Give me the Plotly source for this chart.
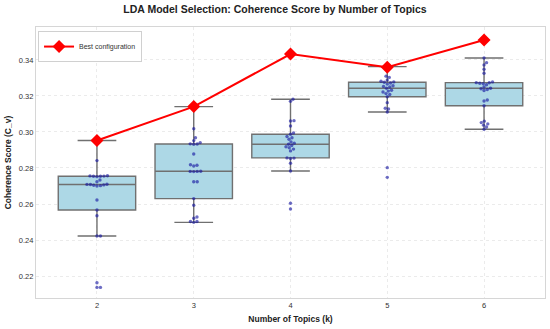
import numpy as np
import plotly.graph_objects as go

topics = [2, 3, 4, 5, 6]
tick_labels = ["2", "3", "4", "5", "6"]

scores_k2 = [0.2137, 0.2137, 0.2163, 0.2422, 0.2422, 0.2535, 0.2567, 0.2622,
             0.2700, 0.2702, 0.2704, 0.2706, 0.2708, 0.2709, 0.2710, 0.2724,
             0.2733, 0.2752, 0.2754, 0.2754, 0.2755, 0.2756, 0.2757, 0.2841, 0.2953]
scores_k3 = [0.2498, 0.2503, 0.2503, 0.2521, 0.2528, 0.2593, 0.2630, 0.2724,
             0.2724, 0.2780, 0.2781, 0.2781, 0.2782, 0.2811, 0.2815, 0.2818,
             0.2878, 0.2932, 0.2933, 0.2934, 0.2941, 0.2952, 0.2968, 0.3018, 0.3141]
scores_k4 = [0.2572, 0.2604, 0.2783, 0.2826, 0.2853, 0.2855, 0.2856, 0.2895,
             0.2905, 0.2912, 0.2918, 0.2925, 0.2932, 0.2938, 0.2945, 0.2960,
             0.2968, 0.2975, 0.2987, 0.2995, 0.3033, 0.3061, 0.3063, 0.3170, 0.3182]
scores_k5 = [0.2748, 0.2802, 0.3111, 0.3128, 0.3132, 0.3163, 0.3196, 0.3208,
             0.3213, 0.3222, 0.3227, 0.3232, 0.3243, 0.3250, 0.3253, 0.3257,
             0.3266, 0.3272, 0.3276, 0.3278, 0.3282, 0.3288, 0.3303, 0.3310, 0.3363]
scores_k6 = [0.3015, 0.3028, 0.3038, 0.3045, 0.3052, 0.3060, 0.3146, 0.3172,
             0.3178, 0.3230, 0.3236, 0.3240, 0.3243, 0.3250, 0.3262, 0.3268,
             0.3271, 0.3273, 0.3274, 0.3278, 0.3326, 0.3348, 0.3372, 0.3385, 0.3411]
best_scores = [0.2953, 0.3141, 0.3433, 0.3359, 0.3511]

groups = [scores_k2, scores_k3, scores_k4, scores_k5, scores_k6]

# box statistics (matplotlib/seaborn style: linear percentiles, 1.5 IQR whiskers)
q1s, meds, q3s, lows, highs = [], [], [], [], []
for g in groups:
    a = np.array(g)
    q1, med, q3 = np.percentile(a, [25, 50, 75])
    iqr = q3 - q1
    lo = a[a >= q1 - 1.5 * iqr].min()
    hi = a[a <= q3 + 1.5 * iqr].max()
    q1s.append(q1); meds.append(med); q3s.append(q3); lows.append(lo); highs.append(hi)

# simple beeswarm layout, computed in pixel space
X_PX = 96.8   # px per category unit
Y_PX = 1800.0  # px per score unit
DIAM = 3.3

def swarm(vals):
    order = np.argsort(vals)
    placed = []
    offs = np.zeros(len(vals))
    for i in order:
        y = vals[i] * Y_PX
        cands = [0.0]
        for k in range(1, 200):
            cands += [k * 0.25, -k * 0.25]
        for c in cands:
            ok = True
            for (px, py) in placed:
                if (px - c) ** 2 + (py - y) ** 2 < DIAM ** 2:
                    ok = False
                    break
            if ok:
                placed.append((c, y))
                offs[i] = c / X_PX
                break
    return offs

sx, sy = [], []
for k, g in zip(topics, groups):
    offs = swarm(np.array(g))
    sx += list(k + offs)
    sy += list(g)

fig = go.Figure()
fig.add_trace(go.Box(
    x=topics, q1=q1s, median=meds, q3=q3s, lowerfence=lows, upperfence=highs,
    width=0.8, whiskerwidth=0.5,
    fillcolor="#add8e6", line=dict(color="#707070", width=1.4),
    boxpoints=False, showlegend=False, hoverinfo="skip"))
fig.add_trace(go.Scatter(
    x=sx, y=sy, mode="markers",
    marker=dict(size=3.4, color="rgba(20,20,160,0.62)", line=dict(width=0)),
    showlegend=False))
fig.add_trace(go.Scatter(
    x=topics, y=best_scores, mode="lines+markers", name="Best configuration",
    line=dict(color="#ff0000", width=2),
    marker=dict(symbol="diamond", size=10, color="#ff0000")))

font = "Liberation Sans, Arial, sans-serif"
fig.update_layout(
    width=550, height=329,
    margin=dict(l=36, r=5, t=27, b=31, autoexpand=False),
    paper_bgcolor="white", plot_bgcolor="white",
    font=dict(family=font, size=7.5, color="#333333"),
    title=dict(text="<b>LDA Model Selection: Coherence Score by Number of Topics</b>",
               x=0.5, xref="container", xanchor="center",
               y=0.972, yref="container", yanchor="middle",
               font=dict(size=10.5, color="#222222")),
    legend=dict(x=0.004, y=0.985, xanchor="left", yanchor="top",
                bgcolor="white", bordercolor="#d0d0d0", borderwidth=1,
                itemwidth=30, tracegroupgap=0,
                font=dict(size=7, color="#333333")),
    showlegend=True,
)
fig.update_xaxes(
    range=[1.37, 6.63], tickvals=topics, ticktext=tick_labels,
    automargin=False,
    showgrid=True, gridcolor="#ebebeb", griddash="dot", gridwidth=1,
    showline=True, linecolor="#d6d6d6", linewidth=1.2, mirror=True,
    zeroline=False, ticks="",
    title=dict(text="<b>Number of Topics (k)</b>", font=dict(size=8.5, color="#222222"), standoff=6))
fig.update_yaxes(
    range=[0.2078, 0.3583], tickvals=[0.22, 0.24, 0.26, 0.28, 0.30, 0.32, 0.34],
    tickformat=".2f", automargin=False,
    showgrid=True, gridcolor="#ebebeb", griddash="dot", gridwidth=1,
    showline=True, linecolor="#d6d6d6", linewidth=1.2, mirror=True,
    zeroline=False, ticks="",
    title=dict(text="<b>Coherence Score (C_v)</b>", font=dict(size=8.5, color="#222222"), standoff=5))

fig.write_html("out.html",
               config={"displayModeBar": False},
               post_script="document.body.style.margin='0';document.body.style.overflow='hidden';")
